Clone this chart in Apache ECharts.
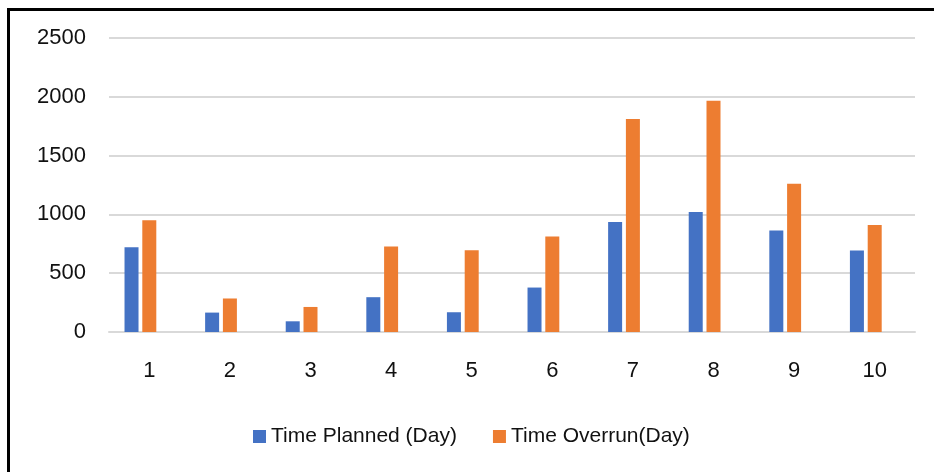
<!DOCTYPE html>
<html>
<head>
<meta charset="utf-8">
<script src="https://cdn.jsdelivr.net/npm/echarts@6/dist/echarts.min.js"></script>
<style>
html,body{margin:0;padding:0;background:#fff;overflow:hidden;}
#chart{position:absolute;left:0;top:0;width:934px;height:472px;}
#frame{position:absolute;left:7px;top:8px;width:1000px;height:600px;border-left:3px solid #000;border-top:3px solid #000;pointer-events:none;}
</style>
</head>
<body>
<div id="chart"></div>
<div id="frame"></div>
<script>
const categories = ['1','2','3','4','5','6','7','8','9','10'];
const plannedName = 'Time Planned (Day)';
const overrunName = 'Time Overrun(Day)';
const planned = [720, 165, 91, 296, 168, 378, 935, 1020, 864, 694];
const overrun = [950, 285, 213, 727, 696, 813, 1812, 1966, 1261, 909];
const emptySeries = [null, null, null, null, null, null, null, null, null, null];
const yTicks = { min: 0, max: 2500, interval: 500 };

const FONT = '"Liberation Sans", Arial, sans-serif';
const TEXT = '#111111';
const chart = echarts.init(document.getElementById('chart'));
chart.setOption({
  animation: false,
  grid: { left: 109, right: 19, top: 38, bottom: 140 },
  legend: {
    data: [plannedName, overrunName],
    left: 253, top: 426, padding: 0,
    icon: 'rect', itemWidth: 13, itemHeight: 13, itemGap: 36,
    textStyle: { fontFamily: FONT, fontSize: 21, color: TEXT }
  },
  xAxis: {
    type: 'category', data: categories,
    axisLine: { lineStyle: { color: '#d9d9d9', width: 2 } },
    axisTick: { show: false },
    axisLabel: { fontFamily: FONT, fontSize: 22, color: TEXT, margin: 28 }
  },
  yAxis: {
    type: 'value', min: yTicks.min, max: yTicks.max, interval: yTicks.interval,
    axisLine: { show: false }, axisTick: { show: false },
    splitLine: { lineStyle: { color: '#d9d9d9', width: 2 } },
    axisLabel: { fontFamily: FONT, fontSize: 22, color: TEXT, margin: 23, formatter: v => String(v) }
  },
  series: [
    { name: plannedName, type: 'bar', data: planned, barWidth: 14, barGap: '27%', itemStyle: { color: '#4472C4' } },
    { name: overrunName, type: 'bar', data: overrun, barWidth: 14, barGap: '27%', itemStyle: { color: '#ED7D31' } },
    { name: 'hidden', type: 'bar', data: emptySeries, barWidth: 14, barGap: '27%', itemStyle: { color: '#A5A5A5' } }
  ]
});
</script>
</body>
</html>
